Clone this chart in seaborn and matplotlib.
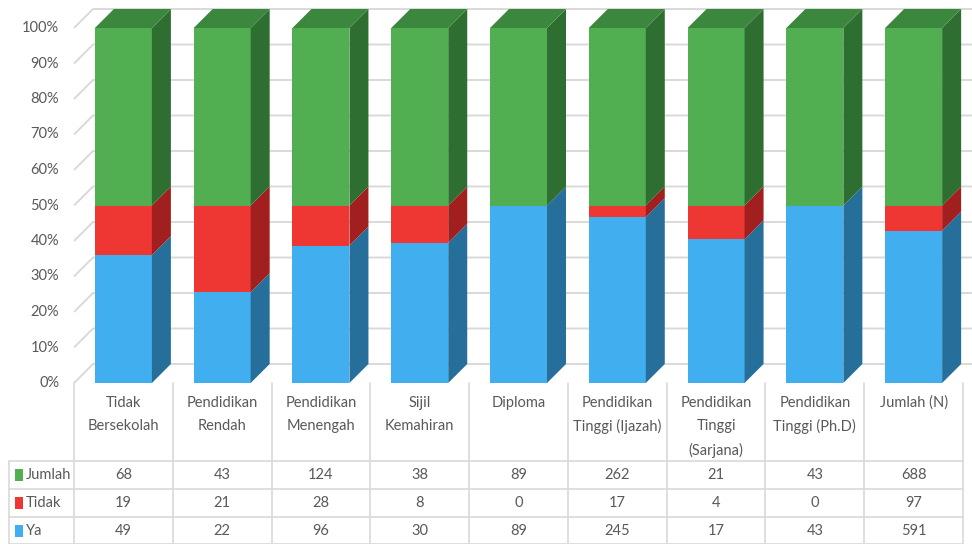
import numpy as np
import matplotlib.pyplot as plt
import matplotlib.patches as mpatches
import seaborn as sns

categories = ['Tidak\nBersekolah', 'Pendidikan\nRendah', 'Pendidikan\nMenengah',
              'Sijil\nKemahiran', 'Diploma', 'Pendidikan\nTinggi (Ijazah)',
              'Pendidikan\nTinggi\n(Sarjana)', 'Pendidikan\nTinggi (Ph.D)', 'Jumlah (N)']
ya = [49, 22, 96, 30, 89, 245, 17, 43, 591]
tidak = [19, 21, 28, 8, 0, 17, 4, 0, 97]
jumlah = [68, 43, 124, 38, 89, 262, 21, 43, 688]
ticks = ['0%', '10%', '20%', '30%', '40%', '50%', '60%', '70%', '80%', '90%', '100%']

sns.set_style('white')
plt.rcParams['font.family'] = ['Lato', 'DejaVu Sans']

front = {'Ya': '#41AFEF', 'Tidak': '#EE3733', 'Jumlah': '#51AF52'}
side = {'Ya': '#266F9A', 'Tidak': '#A21F1F', 'Jumlah': '#2E6E31'}
top_col = '#3A873D'
txt = '#595959'
grid = '#D9D9D9'

W, H = 972, 544
ppu = 98.78          # pixels per category
x0 = 74              # pixel of category 0 left edge
y0, y100 = 383, 28   # pixel of 0% and 100%
ppv = y0 - y100
dx = 19 / ppu
dy = 19 / ppv
bw = 57 / ppu

fig = plt.figure(figsize=(W / 100, H / 100), dpi=100)
ax = fig.add_axes([60 / W, 1 - y0 / H, (W - 60) / W, y0 / H])
ax.set_xlim((60 - x0) / ppu, (W - x0) / ppu)
ax.set_ylim(0, y0 / ppv)
ax.axis('off')

# back wall grid lines
for k in range(11):
    v = k / 10
    ax.plot([0, dx, 9.2], [v, v + dy, v + dy], color=grid, lw=1.4, zorder=1,
            solid_capstyle='butt', clip_on=False)
    ax.text(-0.15, v, ticks[k], ha='right', va='center', fontsize=10.5, color=txt)

ya = np.array(ya, float)
tidak = np.array(tidak, float)
jumlah = np.array(jumlah, float)
tot = ya + tidak + jumlah
segs = [('Ya', ya / tot), ('Tidak', tidak / tot), ('Jumlah', jumlah / tot)]

xs = np.arange(len(categories)) + 0.5
for i, xc in enumerate(xs):
    xl, xr = xc - bw / 2, xc + bw / 2
    bottom = 0.0
    for name, frac in segs:
        h = frac[i]
        if h > 0:
            ax.bar(xc, h, width=bw, bottom=bottom, color=front[name], zorder=3, linewidth=0)
            ax.add_patch(mpatches.Polygon([(xr, bottom), (xr + dx, bottom + dy),
                                           (xr + dx, bottom + h + dy), (xr, bottom + h)],
                                          closed=True, color=side[name], lw=0, zorder=3))
        bottom += h
    ax.add_patch(mpatches.Polygon([(xl, 1), (xl + dx, 1 + dy), (xr + dx, 1 + dy), (xr, 1)],
                                  closed=True, color=top_col, lw=0, zorder=3))

# data table
tx = fig.add_axes([0, 0, 1, (H - y0) / H])
tx.set_xlim(-x0 / ppu, (W - x0) / ppu)
tx.set_ylim(H, y0)
tx.axis('off')
lc = '#D9D9D9'
row_y = [461, 489, 517, 544]
for yy in row_y:
    tx.plot([-65 / ppu, 9], [yy, yy], color=lc, lw=1.2, clip_on=False)
tx.plot([-65 / ppu, -65 / ppu], [461, 544], color=lc, lw=1.2)
for k in range(10):
    tx.plot([k, k], [y0, H], color=lc, lw=1.2, clip_on=False)

for i, lab in enumerate(categories):
    for j, line in enumerate(lab.split('\n')):
        tx.text(i + 0.5, 403 + 23.5 * j, line, ha='center', va='center', fontsize=10.5, color=txt)

rows = [('Jumlah', jumlah), ('Tidak', tidak), ('Ya', ya)]
row_c = [475, 503, 531]
for (name, vals), yc in zip(rows, row_c):
    tx.add_patch(mpatches.Rectangle((-59 / ppu, yc - 6), 8 / ppu, 12,
                                    color=front[name], lw=0))
    tx.text(-48 / ppu, yc, name, ha='left', va='center', fontsize=10.5, color=txt)
    for i, v in enumerate(vals):
        tx.text(i + 0.5, yc, f'{int(v)}', ha='center', va='center', fontsize=10.5, color=txt)

fig.savefig('out.png', dpi=100)
